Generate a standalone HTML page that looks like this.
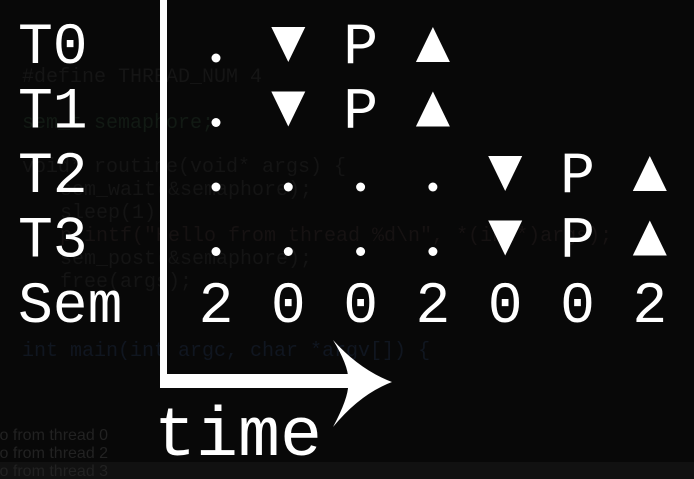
<!DOCTYPE html>
<html><head><meta charset="utf-8"><style>
html,body{margin:0;padding:0;background:#080808;}
#wrap{position:relative;width:694px;height:479px;overflow:hidden;background:#080808;}
svg{position:absolute;left:0;top:0;}
</style></head><body>
<div id="wrap">
<svg width="694" height="479" viewBox="0 0 694 479">
  <g font-family="Liberation Mono, monospace" font-size="20">
    <text x="22" y="82" fill="#151515">#define THREAD_NUM 4</text>
    <text x="22" y="128" fill="#121a14">sem_t semaphore;</text>
    <text x="22" y="172" fill="#141414">void* routine(void* args) {</text>
    <text x="60" y="195" fill="#141414">sem_wait(&amp;semaphore);</text>
    <text x="60" y="218" fill="#141414">sleep(1);</text>
    <text x="60" y="241" fill="#161212">printf("Hello from thread %d\n", *(int*)args);</text>
    <text x="60" y="264" fill="#141414">sem_post(&amp;semaphore);</text>
    <text x="60" y="287" fill="#141414">free(args);</text>
    <text x="22" y="356" fill="#101620">int main(int argc, char *argv[]) {</text>
  </g>
  <rect x="0" y="462" width="694" height="17" fill="#111111"/>
  <g font-family="Liberation Sans, sans-serif" font-size="16" fill="#222">
    <text x="-4" y="440">lo from thread 0</text>
    <text x="-4" y="458">lo from thread 2</text>
    <text x="-4" y="476">lo from thread 3</text>
  </g>
  <g id="rows"></g>
  <g fill="#fff">
    <rect x="160" y="0" width="7" height="388"/>
    <rect x="160" y="374" width="190" height="14"/>
    <path d="M333,340 Q360,370 392,382 Q360,394 333,427 Q350,395 348,382 Q350,368 333,340Z"/>
    <text x="154" y="455" font-family="Liberation Mono, monospace" font-size="70" fill="#fff">time</text>
  </g>
</svg>
</div>
<script>
const rowLabels = ["T0","T1","T2","T3"];
const rowEvents = [
  ["dot","down","P","up","","",""],
  ["dot","down","P","up","","",""],
  ["dot","dot","dot","dot","down","P","up"],
  ["dot","dot","dot","dot","down","P","up"]
];
const semValues = [2,0,0,2,0,0,2];
const NS = "http://www.w3.org/2000/svg";
const g = document.getElementById("rows");
function colX(i){ return 216 + i*72.3; }
function rowTop(r){ return 27 + r*64.5; }
function mk(tag, attrs){ const e=document.createElementNS(NS,tag); for(const k in attrs) e.setAttribute(k,attrs[k]); g.appendChild(e); return e; }
function label(x,y,txt){
  const t = mk("text",{x:x,y:y,"font-family":"Liberation Mono, monospace","font-size":"58",fill:"#fff","text-anchor":"middle"});
  t.textContent = txt; return t;
}
rowLabels.forEach((lab,r)=>{
  const top=rowTop(r), bot=top+35;
  const t = mk("text",{x:18,y:bot+1,"font-family":"Liberation Mono, monospace","font-size":"58",fill:"#fff"});
  t.textContent = lab;
  
  
  rowEvents[r].forEach((ev,i)=>{
    const x=colX(i);
    let e=null;
    if(ev==="dot"){ e=mk("circle",{cx:x,cy:bot-4,r:4.5,fill:"#fff"}); }
    else if(ev==="down"){ e=mk("polygon",{points:(x-17)+","+top+" "+(x+17)+","+top+" "+x+","+bot,fill:"#fff"}); }
    else if(ev==="up"){ e=mk("polygon",{points:(x-17)+","+bot+" "+(x+17)+","+bot+" "+x+","+top,fill:"#fff"}); }
    else if(ev==="P"){ e=label(x,bot+1,"P"); }
    if(e){
      
      
    }
  });
});
const st = mk("text",{x:18,y:rowTop(4)+37,"font-family":"Liberation Mono, monospace","font-size":"58",fill:"#fff"});
st.textContent="Sem";


semValues.forEach((v,i)=>{
  const e = label(colX(i), rowTop(4)+37, String(v));
  
  
});
</script>
</body></html>
